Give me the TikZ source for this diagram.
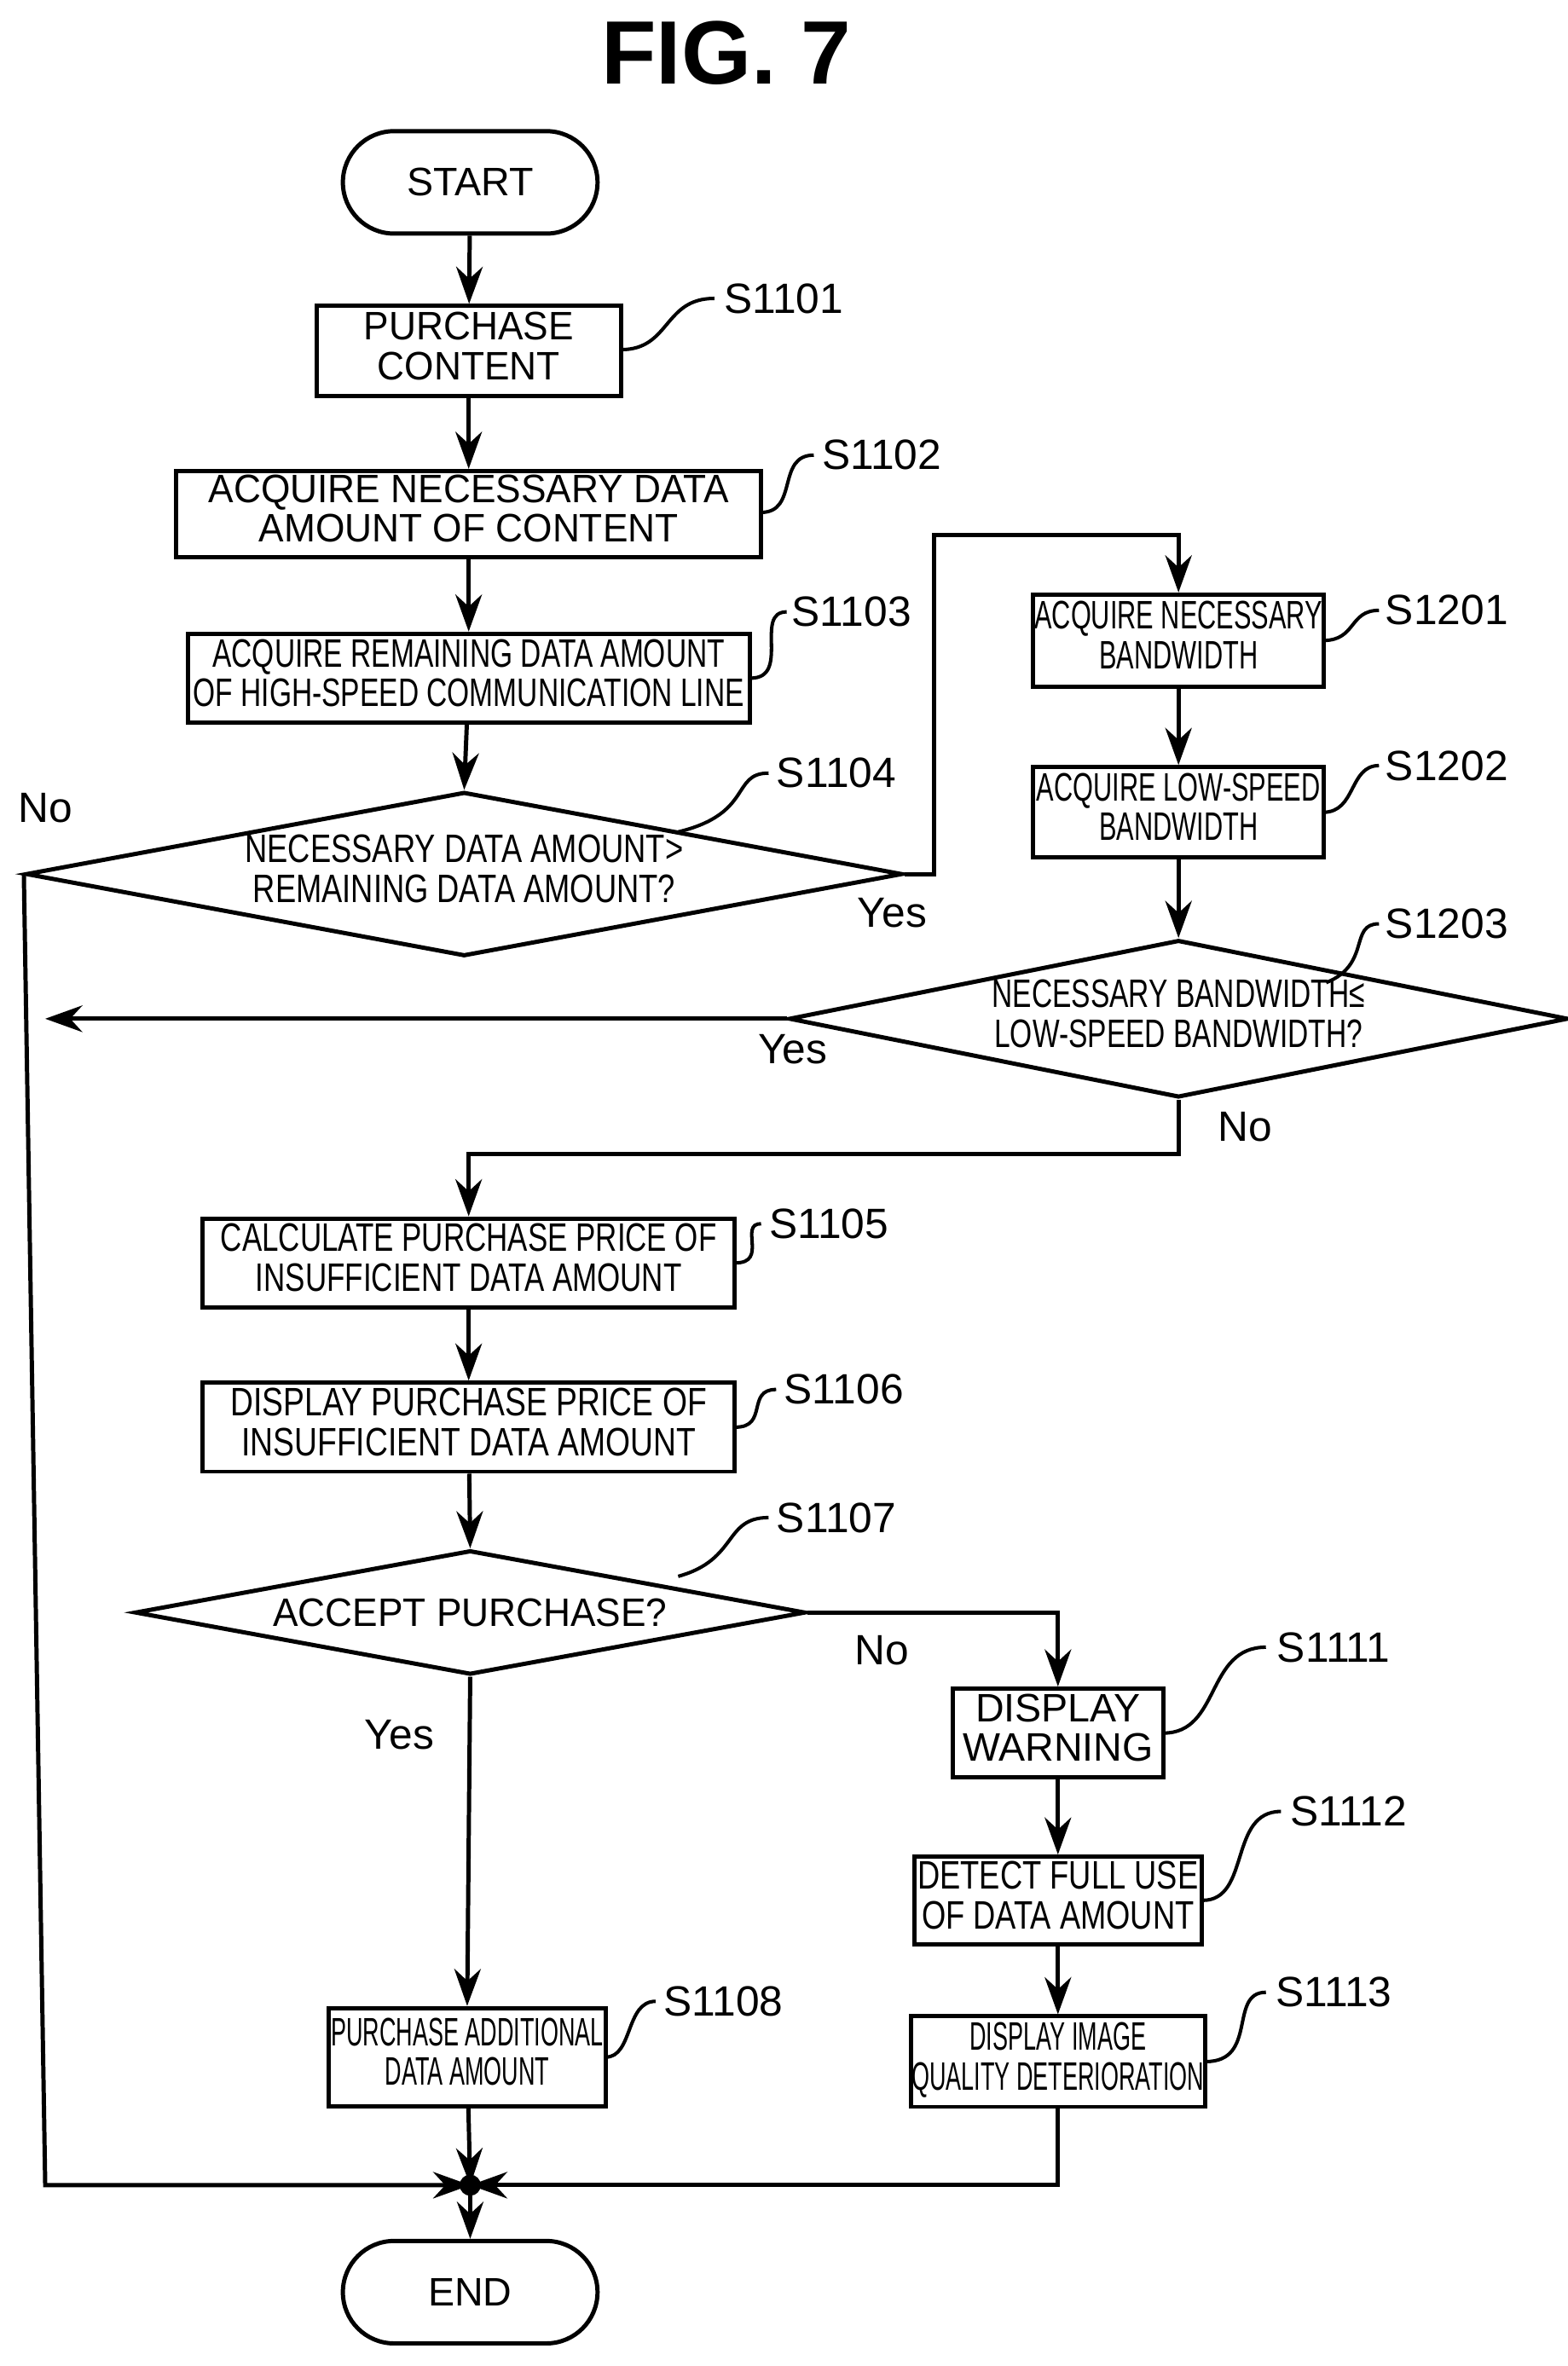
\documentclass[tikz,border=0pt]{standalone}
\usepackage{fontspec}
\setmainfont{Liberation Sans}
\usetikzlibrary{shapes.geometric,arrows.meta}
\newcommand{\nt}[3]{\scalebox{#1}[1]{\begin{tabular}{@{}c@{}}#2\\[-1pt]#3\end{tabular}}}
\begin{document}
\begin{tikzpicture}[x=0.02cm,y=-0.02cm,
  every node/.style={font=\fontsize{15pt}{16pt}\selectfont},
  box/.style={draw,line width=1.6pt,inner sep=0pt,align=center},
  term/.style={box,rounded corners=0.68cm,minimum width=3.38cm,minimum height=1.36cm,font=\fontsize{15pt}{16pt}\selectfont},
  dia/.style={draw,line width=1.6pt,diamond,inner sep=0pt},
  lbl/.style={font=\fontsize{16pt}{17pt}\selectfont},
  ln/.style={line width=1.6pt},
  arr/.style={ln,-{Stealth[length=14pt,width=10pt]}},
  lead/.style={line width=1.3pt}]
\useasboundingbox (0,0) rectangle (1040,1570);
\node[font=\fontsize{34pt}{36pt}\selectfont\bfseries] (title) at (482,35) {FIG. 7};
\node[term] (start) at (312,121) {START};
\node[box,minimum width=4.04cm,minimum height=1.2cm] (b1) at (311,233) {\nt{0.95}{PURCHASE}{CONTENT}};
\node[box,minimum width=7.76cm,minimum height=1.14cm] (b2) at (311,341) {\nt{0.95}{ACQUIRE NECESSARY DATA}{AMOUNT OF CONTENT}};
\node[box,minimum width=7.46cm,minimum height=1.18cm] (b3) at (311,450) {\nt{0.72}{ACQUIRE REMAINING DATA AMOUNT}{OF HIGH-SPEED COMMUNICATION LINE}};
\node[dia,aspect=5.34,minimum width=11.1cm] (d4) at (308,580) {\nt{0.78}{NECESSARY DATA AMOUNT>}{REMAINING DATA AMOUNT?}};
\node[box,minimum width=3.86cm,minimum height=1.22cm] (b21) at (782,425) {\nt{0.66}{ACQUIRE NECESSARY}{BANDWIDTH}};
\node[box,minimum width=3.86cm,minimum height=1.2cm] (b22) at (782,539) {\nt{0.66}{ACQUIRE LOW-SPEED}{BANDWIDTH}};
\node[dia,aspect=4.95,minimum width=9.7cm] (d23) at (782,676) {\nt{0.72}{NECESSARY BANDWIDTH≤}{LOW-SPEED BANDWIDTH?}};
\node[box,minimum width=7.06cm,minimum height=1.18cm] (b5) at (311,838) {\nt{0.75}{CALCULATE PURCHASE PRICE OF}{INSUFFICIENT DATA AMOUNT}};
\node[box,minimum width=7.06cm,minimum height=1.18cm] (b6) at (311,947) {\nt{0.8}{DISPLAY PURCHASE PRICE OF}{INSUFFICIENT DATA AMOUNT}};
\node[dia,aspect=4.1,minimum width=8.9cm] (d7) at (312,1070) {\scalebox{0.95}[1]{ACCEPT PURCHASE?}};
\node[box,minimum width=2.8cm,minimum height=1.18cm] (b11) at (702,1150) {\nt{1}{DISPLAY}{WARNING}};
\node[box,minimum width=3.82cm,minimum height=1.16cm] (b12) at (702,1261) {\nt{0.78}{DETECT FULL USE}{OF DATA AMOUNT}};
\node[box,minimum width=3.9cm,minimum height=1.2cm] (b13) at (702,1368) {\nt{0.58}{DISPLAY IMAGE}{QUALITY DETERIORATION}};
\node[box,minimum width=3.68cm,minimum height=1.3cm] (b8) at (310,1365) {\nt{0.58}{PURCHASE ADDITIONAL}{DATA AMOUNT}};
\node[term] (end) at (312,1521) {END};
\fill (312,1450) circle (0.14cm);
\coordinate (j) at (312,1450);
% labels
\node[lbl] (l1) at (520,198) {S1101};
\node[lbl] (l2) at (585,302) {S1102};
\node[lbl] (l3) at (565,406) {S1103};
\node[lbl] (l4) at (555,513) {S1104};
\node[lbl] (l21) at (960,405) {S1201};
\node[lbl] (l22) at (960,508) {S1202};
\node[lbl] (l23) at (960,613) {S1203};
\node[lbl] (l5) at (550,812) {S1105};
\node[lbl] (l6) at (560,922) {S1106};
\node[lbl] (l7) at (555,1007) {S1107};
\node[lbl] (l11) at (885,1093) {S1111};
\node[lbl] (l12) at (895,1202) {S1112};
\node[lbl] (l13) at (885,1322) {S1113};
\node[lbl] (l8) at (480,1328) {S1108};
\node[lbl] (no1) at (30,536) {No};
\node[lbl] (yes1) at (592,606) {Yes};
\node[lbl] (yes2) at (526,696) {Yes};
\node[lbl] (no2) at (826,748) {No};
\node[lbl] (no3) at (585,1095) {No};
\node[lbl] (yes3) at (265,1151) {Yes};
% leaders
\draw[lead] (412,232) .. controls (445,232) and (440,198) .. (474,198);
\draw[lead] (505,340) .. controls (530,340) and (515,302) .. (540,302);
\draw[lead] (498,450) .. controls (525,450) and (500,406) .. (522,406);
\draw[lead] (450,552) .. controls (500,540) and (485,513) .. (510,513);
\draw[lead] (878,425) .. controls (900,425) and (895,405) .. (915,405);
\draw[lead] (878,539) .. controls (900,539) and (895,508) .. (915,508);
\draw[lead] (880,652) .. controls (910,640) and (895,613) .. (915,613);
\draw[lead] (488,838) .. controls (510,838) and (490,812) .. (505,812);
\draw[lead] (488,947) .. controls (510,947) and (495,922) .. (515,922);
\draw[lead] (450,1046) .. controls (490,1035) and (480,1007) .. (510,1007);
\draw[lead] (772,1150) .. controls (810,1150) and (800,1093) .. (840,1093);
\draw[lead] (798,1261) .. controls (830,1261) and (815,1202) .. (850,1202);
\draw[lead] (800,1368) .. controls (835,1368) and (815,1322) .. (840,1322);
\draw[lead] (402,1365) .. controls (420,1365) and (415,1328) .. (435,1328);
% connectors
\draw[arr] (start) -- (b1);
\draw[arr] (b1) -- (b2);
\draw[arr] (b2) -- (b3);
\draw[arr] (b3) -- (d4.north);
\draw[arr] (d4.east) -- (620,580) -- (620,355) -| (b21.north);
\draw[arr] (b21) -- (b22);
\draw[arr] (b22) -- (d23.north);
\draw[arr] (d23.west) -- (30,676);
\draw[arr] (d23.south) -- (782,766) -| (b5.north);
\draw[arr] (b5) -- (b6);
\draw[arr] (b6) -- (d7.north);
\draw[arr] (d7.east) -| (b11.north);
\draw[arr] (b11) -- (b12);
\draw[arr] (b12) -- (b13);
\draw[arr] (d7.south) -- (b8.north);
\draw[arr] (d4.west) -- (30,1450) -- (j);
\draw[arr] (b8) -- (j);
\draw[arr] (b13.south) |- (j);
\draw[arr] (j) -- (end);
\end{tikzpicture}
\end{document}
